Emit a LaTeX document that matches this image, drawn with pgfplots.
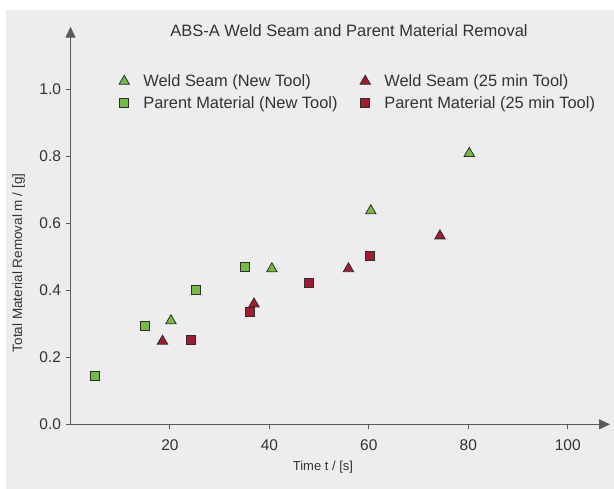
\documentclass[border=0pt]{standalone}
\usepackage{fontspec}
\setmainfont{Liberation Sans}
\usepackage{pgfplots}
\pgfplotsset{compat=1.18}
\usetikzlibrary{arrows.meta}
\definecolor{bg}{HTML}{EDEDED}
\definecolor{axc}{HTML}{5A5A5A}
\definecolor{txt}{HTML}{333333}
\definecolor{gr}{HTML}{72BC43}
\definecolor{rd}{HTML}{A3192F}
\definecolor{edge}{HTML}{2E2E2E}
\begin{document}
\begin{tikzpicture}
\path[use as bounding box] (0bp,0bp) rectangle (614bp,489bp);
\fill[bg] (6bp,0bp) rectangle (614bp,479bp);
\node[font=\fontsize{16.5bp}{19bp}\selectfont, text=txt] at (349bp,458.3bp) {ABS-A Weld Seam and Parent Material Removal};
\begin{axis}[
 at={(70.5bp,64.7bp)}, anchor=south west,
 scale only axis, width=539.5bp, height=397.6bp,
 xmin=0, xmax=108.5, ymin=0, ymax=1.186,
 axis lines=left,
 axis line style={axc, line width=1.2bp, -{Triangle[length=11bp,width=10bp]}},
 tick style={axc, line width=1bp},
 major tick length=5bp, tick align=outside,
 xtick={20,40,60,80,100},
 ytick={0,0.2,0.4,0.6,0.8,1.0},
 /pgf/number format/assume math mode=true,
 ticklabel style={font=\fontsize{15.5bp}{18bp}\selectfont, text=txt},
 xticklabel style={yshift=-7bp},
 yticklabel style={xshift=-1bp, /pgf/number format/.cd, fixed, fixed zerofill, precision=1},
 xlabel={Time t / [s]},
 ylabel={Total Material Removal m / [g]},
 every axis x label/.style={at={(axis description cs:0.468,0)}, yshift=-42.5bp, anchor=center, font=\fontsize{13bp}{15bp}\selectfont, text=txt},
 every axis y label/.style={at={(axis description cs:0,0.406)}, xshift=-51.8bp, anchor=center, rotate=90, font=\fontsize{13.5bp}{15bp}\selectfont, text=txt},
 legend columns=2,
 legend cell align=left,
 legend style={draw=none, fill=none, at={(0.0896,0.885)}, anchor=north west, inner xsep=0pt, inner ysep=0pt, font=\fontsize{16.4bp}{19bp}\selectfont, text=txt, row sep=4.2bp, /tikz/every even column/.append style={column sep=20.5bp}, /tikz/every odd column/.append style={column sep=12bp}},
 clip=false,
]
\addplot[only marks, mark=triangle*, mark size=6bp, mark options={fill=gr, draw=edge, line width=0.8bp}] coordinates {
 (20.2,0.309) (40.5,0.464) (60.4,0.637) (80.2,0.808)};
\addlegendentry{Weld Seam (New Tool)}
\addplot[only marks, mark=triangle*, mark size=6bp, mark options={fill=rd, draw=edge, line width=0.8bp}] coordinates {
 (18.5,0.248) (36.9,0.359) (55.9,0.464) (74.3,0.562)};
\addlegendentry{Weld Seam (25 min Tool)}
\addplot[only marks, mark=square*, mark size=4.5bp, mark options={fill=gr, draw=edge, line width=0.8bp}] coordinates {
 (5.0,0.145) (14.9,0.295) (25.3,0.401) (35.0,0.469)};
\addlegendentry{Parent Material (New Tool)}
\addplot[only marks, mark=square*, mark size=4.5bp, mark options={fill=rd, draw=edge, line width=0.8bp}] coordinates {
 (24.2,0.251) (36.1,0.336) (48.0,0.422) (60.2,0.502)};
\addlegendentry{Parent Material (25 min Tool)}
\end{axis}
\end{tikzpicture}
\end{document}
